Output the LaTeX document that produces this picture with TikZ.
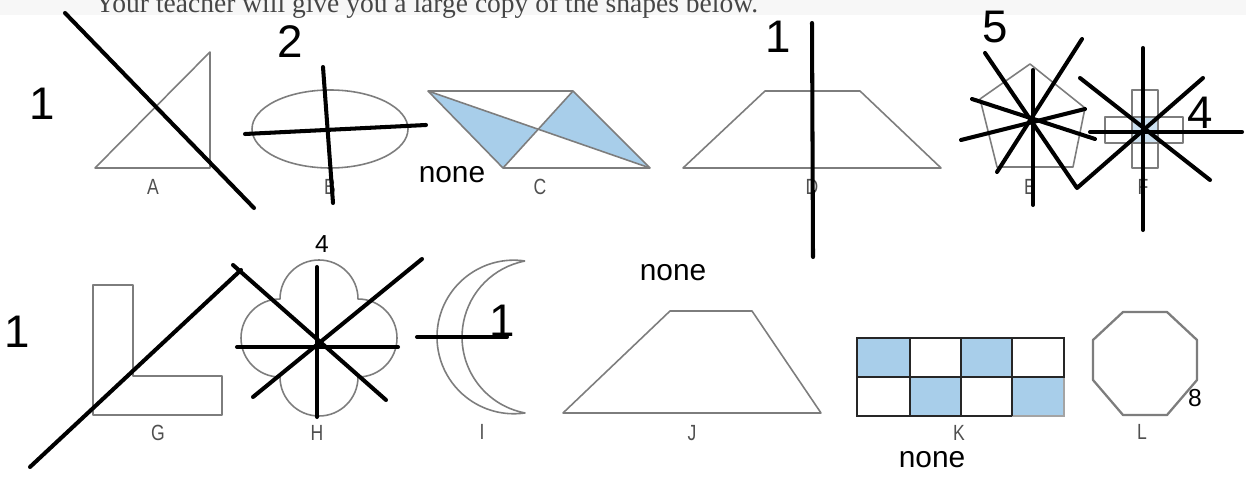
\documentclass[tikz,border=0pt]{standalone}
\usepackage{graphicx}
\usepackage{fontspec}
\setmainfont{Liberation Sans}
\newfontfamily\serifhead{Liberation Serif}
\newfontfamily\labfont[FakeStretch=0.8]{Liberation Sans}
\definecolor{shapegray}{RGB}{125,125,125}
\definecolor{labgray}{RGB}{80,80,80}
\definecolor{headgray}{RGB}{70,70,70}
\definecolor{fillblue}{RGB}{168,206,234}
\definecolor{paleblue}{RGB}{205,225,240}
\begin{document}
\begin{tikzpicture}[x=0.02cm,y=-0.02cm,
  outline/.style={draw=shapegray,line width=0.9pt,line join=round},
  sym/.style={draw=black,line width=2.3pt,line cap=round,line join=round},
  big/.style={font=\fontsize{26}{26}\selectfont,inner sep=0pt},
  small/.style={font=\fontsize{14}{14}\selectfont,inner sep=0pt},
  word/.style={font=\fontsize{17}{17}\selectfont,inner sep=0pt},
  lab/.style={font=\labfont\fontsize{12.5}{12.5}\selectfont,text=labgray,inner sep=0pt}]
\useasboundingbox (0,0) rectangle (1246,482);
\clip (0,0) rectangle (1246,482);
\fill[white] (0,0) rectangle (1246,482);
\fill[black!3] (0,0) rectangle (1246,15);
% header
\node[anchor=base west,inner sep=0pt,text=headgray] (hdr) at (95,13)
  {\resizebox{13.26cm}{!}{\serifhead Your teacher will give you a large copy of the shapes below.}};
% A
\draw[outline] (95,168) -- (210,52) -- (210,168) -- cycle;
% B
\draw[outline] (330,129) ellipse [x radius=78, y radius=39];
% C
\fill[fillblue] (428,91) -- (538.2,129.2) -- (503,168) -- cycle;
\fill[fillblue] (573,91) -- (650,168) -- (538.2,129.2) -- cycle;
\draw[outline] (428,91) -- (573,91) -- (650,168) -- (503,168) -- cycle;
\draw[outline] (428,91) -- (650,168);
\draw[outline] (573,91) -- (503,168);
% D
\draw[outline] (683,168) -- (765,91) -- (860,91) -- (941,168) -- cycle;
% E
\draw[outline] (1030,64) -- (1085,108) -- (1073,167) -- (997,167) -- (980,99) -- cycle;
% F
\fill[paleblue] (1132,117) rectangle (1158,143);
\draw[outline] (1132,90) rectangle (1158,168);
\draw[outline] (1105,117) rectangle (1183,143);
% G
\draw[outline] (93,285) -- (133,285) -- (133,376) -- (222,376) -- (222,415) -- (93,415) -- cycle;
% H
\draw[outline] (280,299) arc[start angle=180,end angle=360,radius=39]
  arc[start angle=270,end angle=450,radius=39]
  arc[start angle=0,end angle=180,radius=39]
  arc[start angle=90,end angle=270,radius=39] -- cycle;
% I
\draw[outline] (525,261) arc[start angle=278.4,end angle=81.6,radius=76.8]
  arc[start angle=100.7,end angle=259.3,radius=77.3];
% J
\draw[outline] (563,413) -- (670,311) -- (752,311) -- (821,413) -- cycle;
% K
\fill[fillblue] (857,338) rectangle (910,377);
\fill[fillblue] (961,338) rectangle (1012,377);
\fill[fillblue] (910,377) rectangle (961,416);
\fill[fillblue] (1012,377) rectangle (1064,416);
\draw[shapegray!70,line width=0.9pt] (1012,416) -- (1064,416) -- (1064,377);
\draw[black!85,line width=1.2pt] (857,338) rectangle (1064,377);
\draw[black!85,line width=1.2pt] (857,377) -- (857,416) -- (1012,416);
\draw[black!85,line width=1.2pt] (910,338) -- (910,416) (961,338) -- (961,416) (1012,338) -- (1012,416);
% L
\draw[outline,line width=1.3pt] (1123,312) -- (1167,312) -- (1197,340) -- (1197,380) -- (1167,415) -- (1123,415) -- (1093,380) -- (1093,340) -- cycle;
% labels
\node[lab] (la) at (153,187) {A};
\node[lab] (lb) at (330,187) {B};
\node[lab] (lc) at (540,187) {C};
\node[lab] (ld) at (812,187) {D};
\node[lab] (le) at (1030,187) {E};
\node[lab] (lf) at (1143,187) {F};
\node[lab] (lg) at (158,433) {G};
\node[lab] (lh) at (317,433) {H};
\node[lab] (li) at (482,432) {I};
\node[lab] (lj) at (692,433) {J};
\node[lab] (lk) at (959,433) {K};
\node[lab] (ll) at (1142,432) {L};
% symmetry lines
\draw[sym] (65,13) -- (254,208);
\draw[sym] (245,134) -- (426,125);
\draw[sym] (323,67) -- (333,203);
\draw[sym] (812,23) -- (813,257);
\draw[sym] (985,53) -- (1077,188) -- (1203,78);
\draw[sym] (1082,39) -- (997,172);
\draw[sym] (1033,70) -- (1033,205);
\draw[sym] (972,99) -- (1095,139);
\draw[sym] (961,140) -- (1085,109);
\draw[sym] (1143,48) -- (1143,230);
\draw[sym] (1080,78) -- (1210,180);
\draw[sym] (1090,132) -- (1242,132);
\draw[sym] (30,467) -- (241,270);
\draw[sym] (317,267) -- (317,417);
\draw[sym] (237,347) -- (398,347);
\draw[sym] (233,265) -- (386,400);
\draw[sym] (253,397) -- (422,259);
\draw[sym] (417,337) -- (507,337);
% answers
\node[big] (n1) at (42,104) {1};
\node[big] (n2) at (290,42) {2};
\node[word] (n3) at (452,175) {none};
\node[big] (n4) at (778,37) {1};
\node[big] (n5) at (995,27) {5};
\node[big] (n6) at (1200,113) {4};
\node[big] (n7) at (17,332) {1};
\node[small] (n8) at (322,244) {4};
\node[big,anchor=base] (n9) at (502,337) {1};
\node[word] (n10) at (673,273) {none};
\node[small] (n11) at (1195,398) {8};
\node[word] (n12) at (932,460) {none};
\end{tikzpicture}
\end{document}
